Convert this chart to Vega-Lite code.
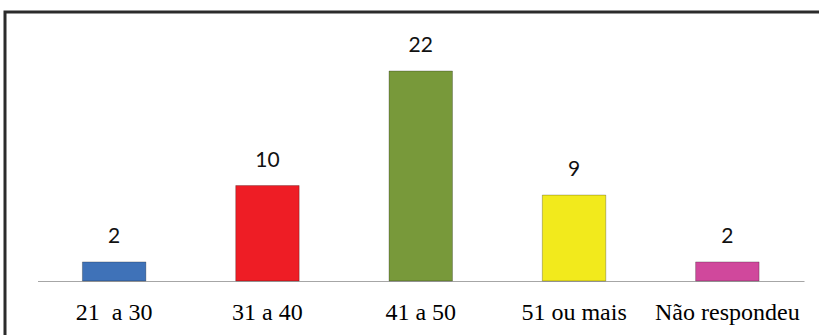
{
  "$schema": "https://vega.github.io/schema/vega-lite/v6.json",
  "autosize": {"type": "none"},
  "padding": {"left": 5, "top": 12, "right": 0, "bottom": 0},
  "width": 840,
  "height": 340,
  "background": "#ffffff",
  "config": {
    "view": {"stroke": "#2b2b2b", "strokeWidth": 3},
    "axis": {"grid": false}
  },
  "data": {
    "values": [
      {"faixa": "21 \u00a0a 30", "n": 2},
      {"faixa": "31 a 40", "n": 10},
      {"faixa": "41 a 50", "n": 22},
      {"faixa": "51 ou mais", "n": 9},
      {"faixa": "Não respondeu", "n": 2}
    ]
  },
  "encoding": {
    "x": {
      "field": "faixa",
      "type": "nominal",
      "sort": null,
      "scale": {"range": [32.5, 799], "paddingInner": 0.586, "paddingOuter": 0.293},
      "axis": {
        "title": null,
        "orient": "bottom",
        "offset": -71,
        "ticks": false,
        "labelAngle": 0,
        "labelOverlap": false,
        "labelFont": "Liberation Serif",
        "labelFontSize": 24,
        "labelColor": "#000000",
        "labelBaseline": "alphabetic",
        "labelPadding": 38,
        "domainColor": "#a6a6a6",
        "domainWidth": 1.2
      }
    },
    "y": {
      "field": "n",
      "type": "quantitative",
      "scale": {"domain": [0, 28.18], "range": [269, 0], "nice": false, "zero": true},
      "axis": null
    }
  },
  "layer": [
    {
      "mark": {"type": "bar", "stroke": "#00000040", "strokeWidth": 1},
      "encoding": {
        "color": {
          "field": "faixa",
          "type": "nominal",
          "sort": null,
          "scale": {
            "domain": ["21 \u00a0a 30", "31 a 40", "41 a 50", "51 ou mais", "Não respondeu"],
            "range": ["#3f72b8", "#ee1d25", "#78993a", "#f2ea1c", "#d0489c"]
          },
          "legend": null
        }
      }
    },
    {
      "mark": {
        "type": "text",
        "dy": -19,
        "baseline": "alphabetic",
        "font": "Lato",
        "fontSize": 21,
        "color": "#111111"
      },
      "encoding": {"text": {"field": "n", "type": "quantitative"}}
    }
  ]
}
